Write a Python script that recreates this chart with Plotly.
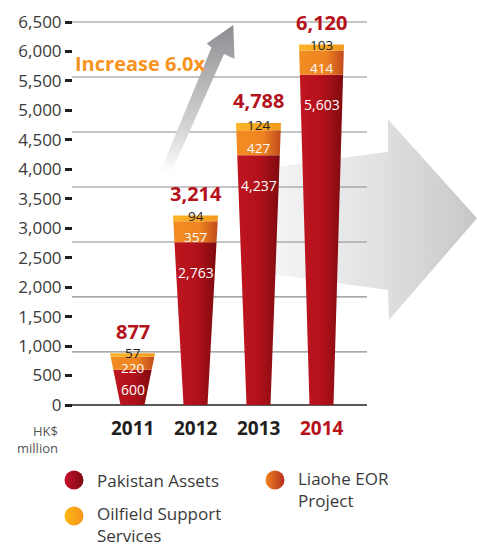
import plotly.graph_objects as go

# ---------------- data ----------------
years = ["2011", "2012", "2013", "2014"]
pakistan = [600, 2763, 4237, 5603]
liaohe = [220, 357, 427, 414]
oilfield = [57, 94, 124, 103]
totals = [877, 3214, 4788, 6120]
y_tick_values = list(range(0, 6501, 500))
series_names = ["Pakistan Assets", "Liaohe EOR<br>Project", "Oilfield Support<br>Services"]
headline = "Increase 6.0x"

# ---------------- geometry / style ----------------
W, H = 477, 546
X0, XS = 132.5, 63.0          # pixel of first bar centre, pixels per category
Y0, YK = 405.0, 383.0 / 6500  # pixel of value 0, pixels per unit


def dx(px):
    return (px - X0) / XS


def dy(py):
    return (Y0 - py) / YK


RED = "#B5121B"
DARK = "#231F20"
GREY_TXT = "#3A3A3A"
FONT = "Open Sans"

red_scale = [[0, "#C0151F"], [0.55, "#B0111A"], [1, "#7E0A0F"]]
orange_scale = [[0, "#F28C22"], [0.6, "#EE8421"], [1, "#C24A1C"]]
yellow_scale = [[0, "#FBB527"], [1, "#F39A1F"]]
seg_scales = [red_scale, orange_scale, yellow_scale]

WB, WT = 24 / XS, 45 / XS     # bar width at bottom / top (data units)

fig = go.Figure()

# big grey arrow (background decoration)
big_arrow = [(265, 168.5), (388, 151.7), (388, 119.3), (477, 218.3), (389, 320), (388, 290), (265, 273)]
fig.add_trace(go.Scatter(
    x=[dx(p[0]) for p in big_arrow] + [dx(big_arrow[0][0])],
    y=[dy(p[1]) for p in big_arrow] + [dy(big_arrow[0][1])],
    mode="lines", line=dict(width=0, color="rgba(0,0,0,0)"), fill="toself",
    fillgradient=dict(type="horizontal",
                      colorscale=[[0, "#F6F6F7"], [0.5, "#E2E3E4"], [1, "#C6C7C9"]]),
    hoverinfo="skip", showlegend=False))

# decorative horizontal lines (one trace, gaps between segments)
grid_vals = [6500 - k * 933.33 for k in range(7)]
gx, gy = [], []
for gv in grid_vals:
    gx += [dx(72), dx(367), None]
    gy += [gv, gv, None]
fig.add_trace(go.Scatter(x=gx, y=gy, mode="lines", connectgaps=False,
                         line=dict(color="#8C8C8C", width=1.2),
                         hoverinfo="skip", showlegend=False))
fig.add_trace(go.Scatter(x=[dx(72), dx(367)], y=[0, 0], mode="lines",
                         line=dict(color=DARK, width=1.6),
                         hoverinfo="skip", showlegend=False))

# diagonal arrow
diag = [(160, 172), (211.5, 47.5), (206.7, 43.5), (233.3, 25), (234.5, 59), (224, 54), (171.5, 172)]
fig.add_trace(go.Scatter(
    x=[dx(p[0]) for p in diag] + [dx(diag[0][0])],
    y=[dy(p[1]) for p in diag] + [dy(diag[0][1])],
    mode="lines", line=dict(width=0, color="rgba(0,0,0,0)"), fill="toself",
    fillgradient=dict(type="vertical",
                      colorscale=[[0, "#FFFFFF"], [0.25, "#DADADB"], [1, "#8D8E91"]]),
    hoverinfo="skip", showlegend=False))

# tapered stacked bars
for i in range(len(years)):
    T = totals[i]
    bounds = [0, pakistan[i], pakistan[i] + liaohe[i], pakistan[i] + liaohe[i] + oilfield[i]]

    def hw(v):
        return (WB + (WT - WB) * v / T) / 2

    for s in range(3):
        y0, y1 = bounds[s], bounds[s + 1]
        fig.add_trace(go.Scatter(
            x=[i - hw(y0), i + hw(y0), i + hw(y1), i - hw(y1), i - hw(y0)],
            y=[y0, y0, y1, y1, y0],
            mode="lines", line=dict(width=0, color="rgba(0,0,0,0)"), fill="toself",
            fillgradient=dict(type="horizontal", colorscale=seg_scales[s]),
            hoverinfo="skip", showlegend=False))

# legend markers
leg_pos = [(74, 480), (275, 480), (74, 516)]
leg_cols = [("#C8102E", "#7E0A0F"), ("#F08421", "#B52E1C"), ("#FDB813", "#F7941D")]
for (px, py), (c0, c1) in zip(leg_pos, leg_cols):
    fig.add_trace(go.Scatter(
        x=[dx(px)], y=[dy(py)], mode="markers",
        marker=dict(size=19, color=c0, line=dict(width=0),
                    gradient=dict(type="horizontal", color=c1)),
        hoverinfo="skip", showlegend=False))

ann = []
# value labels
for i in range(len(years)):
    p, l, o, T = pakistan[i], liaohe[i], oilfield[i], totals[i]
    shift = min(30, p * YK / 2 + 2)
    ann.append(dict(x=i, y=p, text=f"{p:,}", yshift=-shift, yanchor="middle",
                    font=dict(family=FONT, size=14, color="white")))
    ann.append(dict(x=i, y=p + l / 2, text=f"{l:,}", yshift=-5, yanchor="middle",
                    font=dict(family=FONT, size=13.5, color="white")))
    ann.append(dict(x=i, y=p + l + o / 2, text=f"{o:,}", yshift=2, yanchor="middle",
                    font=dict(family=FONT, size=13.5, color=DARK)))
    ann.append(dict(x=i, y=T, text=f"<b>{T:,}</b>", yshift=22, yanchor="middle",
                    font=dict(family=FONT, size=20, color=RED)))
    ann.append(dict(x=i, y=dy(428), text=f"<b>{years[i]}</b>", yanchor="middle",
                    font=dict(family=FONT, size=19, color=RED if i == len(years) - 1 else DARK)))

ann.append(dict(x=dx(60), y=dy(439), text="HK$<br>million", xanchor="right", align="right",
                yanchor="middle", font=dict(family=FONT, size=13, color="#555555")))
ann.append(dict(x=dx(73), y=dy(63), text=f"<b>{headline}</b>", xanchor="left", yanchor="middle",
                font=dict(family=FONT, size=20, color="#F7941D")))

# legend texts
leg_text_pos = [(95, 480), (296, 489), (95, 524)]
for (px, py), name in zip(leg_text_pos, series_names):
    ann.append(dict(x=dx(px), y=dy(py), text=name, xanchor="left", yanchor="middle",
                    align="left", font=dict(family=FONT, size=17, color=GREY_TXT)))

for a in ann:
    a.update(xref="x", yref="y", showarrow=False)

fig.update_layout(
    width=W, height=H,
    margin=dict(l=0, r=0, t=0, b=0),
    paper_bgcolor="white", plot_bgcolor="white",
    annotations=ann,
    xaxis=dict(range=[dx(0), dx(W)], visible=False, domain=[0, 1], fixedrange=True),
    yaxis=dict(range=[dy(H), dy(0)], domain=[0, 1], anchor="free", position=72 / W,
               tickvals=y_tick_values, ticktext=[f"{v:,}" for v in y_tick_values],
               ticks="outside", ticklen=7, tickwidth=3, tickcolor=DARK,
               tickfont=dict(family=FONT, size=17, color=GREY_TXT),
               showgrid=False, zeroline=False, showline=False, fixedrange=True),
    showlegend=False,
)

fig.write_html("out.html", config={"displayModeBar": False},
               post_script="document.body.style.margin='0';")
